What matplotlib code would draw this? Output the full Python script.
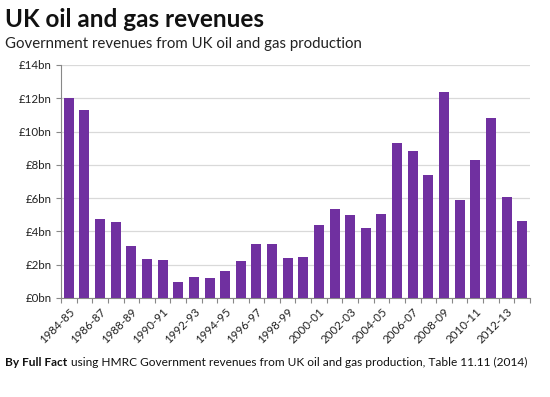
import numpy as np
import matplotlib.pyplot as plt

# 数据
years = ['1984-85', '1985-86', '1986-87', '1987-88', '1988-89', '1989-90',
         '1990-91', '1991-92', '1992-93', '1993-94', '1994-95', '1995-96',
         '1996-97', '1997-98', '1998-99', '1999-00', '2000-01', '2001-02',
         '2002-03', '2003-04', '2004-05', '2005-06', '2006-07', '2007-08',
         '2008-09', '2009-10', '2010-11', '2011-12', '2012-13', '2013-14']
revenue = [12.02, 11.32, 4.77, 4.59, 3.14, 2.36, 2.30, 0.98, 1.28, 1.22,
           1.64, 2.24, 3.26, 3.26, 2.42, 2.48, 4.41, 5.37, 5.01, 4.23,
           5.07, 9.33, 8.85, 7.41, 12.40, 5.91, 8.31, 10.84, 6.09, 4.65]
yticks = np.arange(0, 14.1, 2)
ytick_labels = ['£%dbn' % v for v in yticks]

plt.rcParams['font.family'] = ['Lato', 'DejaVu Sans']

fig = plt.figure(figsize=[5.5, 3.97], dpi=100)
ax = fig.add_axes([0.1109, 0.2494, 0.8527, 0.5869])

x = np.arange(len(years))
ax.bar(x, revenue, width=0.64, color='#7030a0', zorder=3)

ax.set_xlim(-0.5, len(years) - 0.5)
ax.set_ylim(0, 14)

# 坐标刻度
ax.set_yticks(yticks)
ax.set_yticklabels(ytick_labels, fontsize=8.3, color='#222222')
ax.set_xticks(x[::2])
ax.set_xticklabels(years[::2], rotation=45, ha='right', rotation_mode='anchor',
                   fontsize=8.3, color='#222222')
ax.set_xticks(np.arange(-0.5, len(years), 1), minor=True)
ax.tick_params(axis='x', which='major', length=0, pad=6)
ax.tick_params(axis='x', which='minor', length=3.5, color='#888888', width=0.8)
ax.tick_params(axis='y', length=3.5, color='#888888', width=0.8, pad=3)

# 网格和边框
ax.grid(axis='y', color='#d9d9d9', linewidth=0.9, zorder=0)
for s in ['top', 'right']:
    ax.spines[s].set_visible(False)
for s in ['left', 'bottom']:
    ax.spines[s].set_color('#888888')
    ax.spines[s].set_linewidth(0.8)

# 标题
fig.text(0.009, 0.931, 'UK oil and gas revenues', fontsize=17.5, fontweight='bold',
         color='#111111')
fig.text(0.009, 0.879, 'Government revenues from UK oil and gas production',
         fontsize=10.8, color='#222222')
t1 = fig.text(0.009, 0.078, 'By Full Fact', fontsize=8.6, fontweight='bold', color='#111111')
fig.canvas.draw()
bb = t1.get_window_extent()
x2 = (bb.x1 + 4) / fig.bbox.width
fig.text(x2, 0.078, 'using HMRC Government revenues from UK oil and gas production, Table 11.11 (2014)',
         fontsize=8.6, color='#111111')

fig.savefig('out.png', dpi=100)
